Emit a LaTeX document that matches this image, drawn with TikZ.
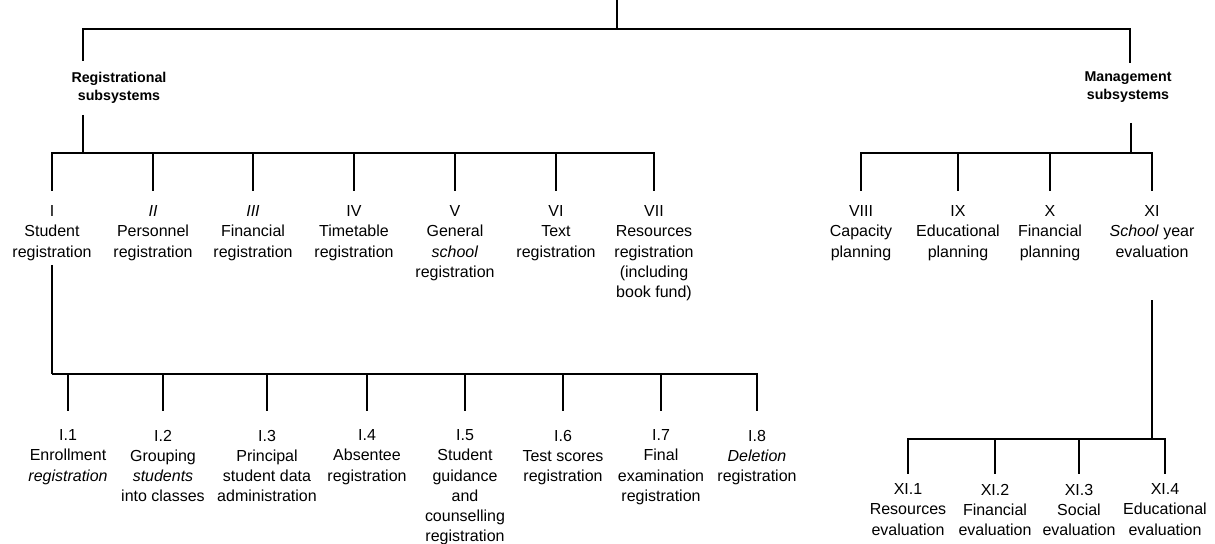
\documentclass[tikz,border=0pt]{standalone}
\usepackage{fontspec}
\setmainfont{Liberation Sans}
\begin{document}
\begin{tikzpicture}[x=0.02cm, y=-0.02cm, line width=1.1pt]
\tikzstyle{lb}=[anchor=north, align=center, inner sep=0pt, font=\fontsize{9.1}{11.4}\selectfont]
\tikzstyle{grp}=[align=center, inner sep=0pt, font=\fontsize{8.1}{10.2}\selectfont\bfseries]
\useasboundingbox (0,0) rectangle (1215,544);

% subsystems
\node[grp] (Reg) at (119,88) {Registrational\\subsystems};
\node[grp] (Man) at (1128,87) {Management\\subsystems};

% first level
\node[lb] (L1) at (52,205) {I\\Student\\registration};
\node[lb] (L2) at (153,205) {\textit{II}\\Personnel\\registration};
\node[lb] (L3) at (253,205) {\textit{III}\\Financial\\registration};
\node[lb] (L4) at (354,205) {IV\\Timetable\\registration};
\node[lb] (L5) at (455,205) {V\\General\\\textit{school}\\registration};
\node[lb] (L6) at (556,205) {VI\\Text\\registration};
\node[lb] (L7) at (654,205) {VII\\Resources\\registration\\(including\\book fund)};
\node[lb] (L8) at (861,205) {VIII\\Capacity\\planning};
\node[lb] (L9) at (958,205) {IX\\Educational\\planning};
\node[lb] (L10) at (1050,205) {X\\Financial\\planning};
\node[lb] (L11) at (1152,205) {XI\\\textit{School} year\\evaluation};

% student registration
\node[lb] (S1) at (68,429) {I.1\\Enrollment\\\textit{registration}};
\node[lb] (S2) at (163,429) {I.2\\Grouping\\\textit{students}\\into classes};
\node[lb] (S3) at (267,429) {I.3\\Principal\\student data\\administration};
\node[lb] (S4) at (367,429) {I.4\\Absentee\\registration};
\node[lb] (S5) at (465,429) {I.5\\Student\\guidance\\and\\counselling\\registration};
\node[lb] (S6) at (563,429) {I.6\\Test scores\\registration};
\node[lb] (S7) at (661,429) {I.7\\Final\\examination\\registration};
\node[lb] (S8) at (757,429) {I.8\\\textit{Deletion}\\registration};

% school year evaluation
\node[lb] (E1) at (908,483) {XI.1\\Resources\\evaluation};
\node[lb] (E2) at (995,483) {XI.2\\Financial\\evaluation};
\node[lb] (E3) at (1079,483) {XI.3\\Social\\evaluation};
\node[lb] (E4) at (1165,483) {XI.4\\Educational\\evaluation};

\coordinate (T) at (617,0);
\coordinate (T0) at (617,29);
\coordinate (RegIn) at (83,61);
\coordinate (RegOut) at (83,115);
\coordinate (ManIn) at (1130,63);
\coordinate (ManOut) at (1131,123);
\coordinate (J1) at (83,153);
\coordinate (J2) at (1131,153);
\coordinate (J3) at (52,374);
\coordinate (J4) at (1152,439);

\draw (T) -- (T0);
\draw (T0) -| (RegIn);
\draw (T0) -| (ManIn);
\draw (RegOut) -- (J1);
\draw (ManOut) -- (J2);
\foreach \n in {1,...,7} \draw (J1) -| ([yshift=8pt]L\n.north);
\foreach \n in {8,...,11} \draw (J2) -| ([yshift=8pt]L\n.north);
\draw ([yshift=-2pt]L1.south) -- (J3);
\foreach \n in {1,...,8} \draw (J3) -| ([yshift=10pt]S\n.north);
\draw ([yshift=-24pt]L11.south) -- (J4);
\foreach \n in {1,...,4} \draw (J4) -| ([yshift=5pt]E\n.north);
\end{tikzpicture}
\end{document}
